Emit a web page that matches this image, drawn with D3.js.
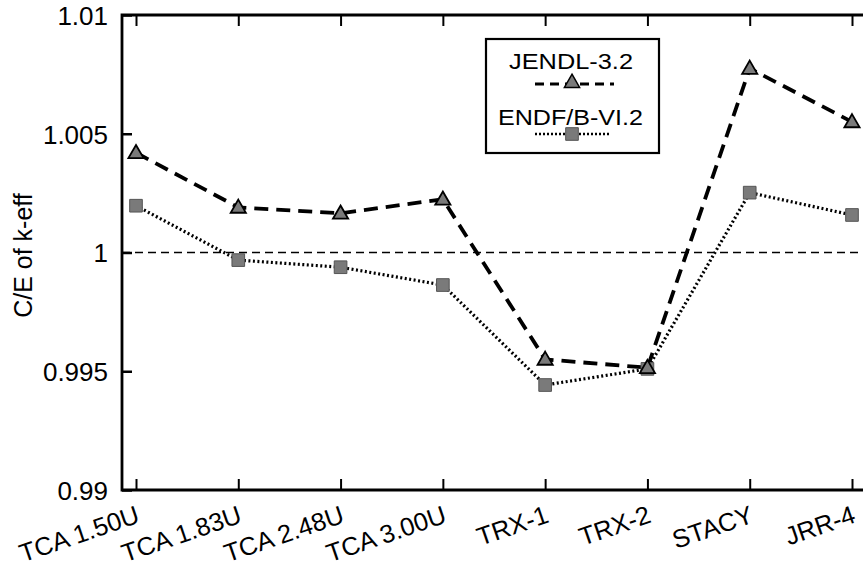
<!DOCTYPE html>
<html><head><meta charset="utf-8">
<script src="https://cdn.jsdelivr.net/npm/d3@7"></script>
<style>
html,body{margin:0;padding:0;background:#fff;}
svg{display:block;font-family:"Liberation Sans",Arial,Helvetica,sans-serif;}
</style></head>
<body><svg id="chart" width="863" height="569"></svg>
<script>
const categories = ["TCA 1.50U","TCA 1.83U","TCA 2.48U","TCA 3.00U","TRX-1","TRX-2","STACY","JRR-4"];
const jendl = [1.0042,1.0019,1.00165,1.00224,0.9955,0.99515,1.00775,1.0055];
const endf  = [1.00197,0.99968,0.99938,0.99863,0.99442,0.99510,1.00252,1.00158];
const yTicks = [0.99,0.995,1,1.005,1.01];
const yTickLabels = ["0.99","0.995","1","1.005","1.01"];
const seriesNames = ["JENDL-3.2","ENDF/B-VI.2"];

const svg = d3.select("#chart");
const L = 122, T = 15, B = 490, R = 880;
const x = d3.scalePoint().domain(categories).range([136, 852]);
const y = d3.scaleLinear().domain([0.99,1.01]).range([B, T]);

// reference line at 1
svg.append("line").attr("x1",L).attr("x2",R).attr("y1",y(1)).attr("y2",y(1))
  .attr("stroke","#000").attr("stroke-width",1.5).attr("stroke-dasharray","8,5");

// frame
svg.append("path").attr("d",`M${R},${T}H${L}V${B}H${R}`)
  .attr("fill","none").attr("stroke","#000").attr("stroke-width",2.8);

// left axis
const yAxis = d3.axisLeft(y).tickValues(yTicks).tickSizeInner(-10).tickSizeOuter(0).tickPadding(14)
  .tickFormat((d,i)=>yTickLabels[i]);
const gy = svg.append("g").attr("transform",`translate(${L},0)`).call(yAxis);
gy.select(".domain").remove();
gy.selectAll("line").attr("stroke-width",2.5);
gy.selectAll("text").attr("font-size",26).attr("fill","#000").attr("dy","0.36em");

// bottom axis
const xAxis = d3.axisBottom(x).tickSizeInner(-11).tickSizeOuter(0).tickFormat("");
const gx = svg.append("g").attr("transform",`translate(0,${B})`).call(xAxis);
gx.select(".domain").remove();
gx.selectAll("line").attr("stroke-width",2);

// top axis
const xAxisTop = d3.axisTop(x).tickSizeInner(-11).tickSizeOuter(0).tickFormat("");
const gt = svg.append("g").attr("transform",`translate(0,${T})`).call(xAxisTop);
gt.select(".domain").remove();
gt.selectAll("line").attr("stroke-width",2);

// x labels rotated
svg.append("g").selectAll("text").data(categories).join("text")
  .attr("transform",d=>`translate(${x(d)+5},${B+32}) rotate(-19)`)
  .attr("text-anchor","end").attr("font-size",25.5).attr("fill","#000").text(d=>d);

// y title
svg.append("text").attr("transform",`translate(32,${y(1)+3}) rotate(-90)`)
  .attr("text-anchor","middle").attr("font-size",25).text("C/E of k-eff");

// series lines
const line = d3.line().x((d,i)=>x(categories[i])).y(d=>y(d));
svg.append("path").datum(endf).attr("d",line).attr("fill","none")
  .attr("stroke","#000").attr("stroke-width",3.2).attr("stroke-dasharray","2,2.5");
svg.append("path").datum(jendl).attr("d",line).attr("fill","none")
  .attr("stroke","#000").attr("stroke-width",3.8).attr("stroke-dasharray","14,8");

const tri = d3.symbol().type(d3.symbolTriangle).size(100);
const sq = d3.symbol().type(d3.symbolSquare).size(160);

svg.append("g").selectAll("path").data(endf).join("path")
  .attr("d",sq).attr("transform",(d,i)=>`translate(${x(categories[i])},${y(d)})`)
  .attr("fill","#7a7a7a").attr("stroke","#555").attr("stroke-width",1);
svg.append("g").selectAll("path").data(jendl).join("path")
  .attr("d",tri).attr("transform",(d,i)=>`translate(${x(categories[i])},${y(d)+1})`)
  .attr("fill","#7a7a7a").attr("stroke","#000").attr("stroke-width",1.8);

// legend
const lg = svg.append("g");
lg.append("rect").attr("x",486).attr("y",39).attr("width",173).attr("height",114)
  .attr("fill","#fff").attr("stroke","#000").attr("stroke-width",2.2);
lg.append("text").attr("x",509).attr("y",69).attr("font-size",22)
  .attr("textLength",124).attr("lengthAdjust","spacingAndGlyphs").text(seriesNames[0]);
lg.append("line").attr("x1",535).attr("x2",614).attr("y1",84).attr("y2",84)
  .attr("stroke","#000").attr("stroke-width",3).attr("stroke-dasharray","9,6");
lg.append("path").attr("d",tri).attr("transform","translate(572,83)")
  .attr("fill","#7a7a7a").attr("stroke","#000").attr("stroke-width",1.5);
lg.append("text").attr("x",498).attr("y",125).attr("font-size",22)
  .attr("textLength",145).attr("lengthAdjust","spacingAndGlyphs").text(seriesNames[1]);
lg.append("line").attr("x1",535).attr("x2",611).attr("y1",134).attr("y2",134)
  .attr("stroke","#000").attr("stroke-width",2.5).attr("stroke-dasharray","2,2");
lg.append("path").attr("d",sq).attr("transform","translate(572,134)")
  .attr("fill","#7a7a7a").attr("stroke","#555").attr("stroke-width",1);
</script></body></html>
